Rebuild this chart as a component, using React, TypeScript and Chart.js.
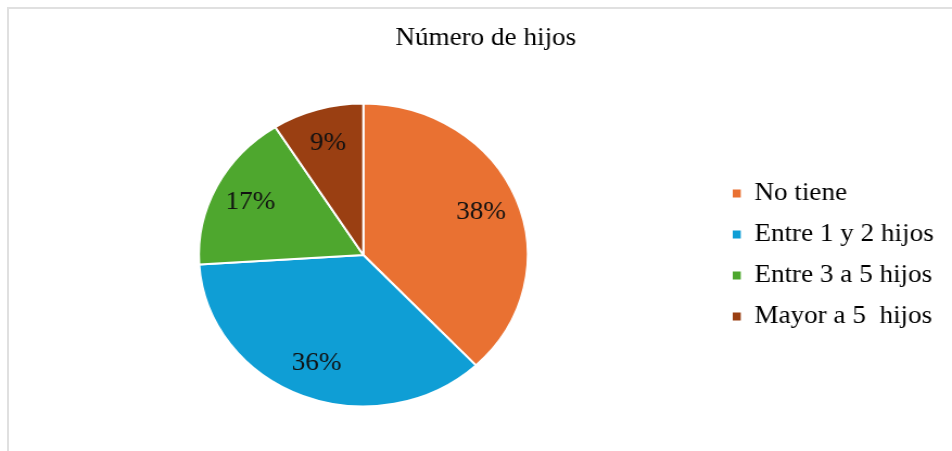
import React, { useEffect, useRef } from "react";
import { Chart, registerables } from "chart.js";

Chart.register(...registerables);

const title = "Número de hijos";
const categories = ["No tiene", "Entre 1 y 2 hijos", "Entre 3 a 5 hijos", "Mayor a 5  hijos"];
const values = [38, 36, 17, 9];
const colors = ["#E97132", "#0F9ED5", "#4EA72E", "#9A3F12"];

const FONT = '"Liberation Serif", "Times New Roman", serif';
const STRETCH = 1.086;
const PAGE_W = 952;
const PAGE_H = 451;
const CANVAS_W = Math.round(PAGE_W / STRETCH);

const percentLabels = {
  id: "percentLabels",
  afterDatasetsDraw(chart: any) {
    const ctx = chart.ctx;
    const meta = chart.getDatasetMeta(0);
    const data = chart.data.datasets[0].data as number[];
    const total = data.reduce((a, b) => a + b, 0);
    ctx.save();
    ctx.font = `25px ${FONT}`;
    ctx.fillStyle = "#111";
    ctx.textAlign = "center";
    ctx.textBaseline = "middle";
    meta.data.forEach((arc: any, i: number) => {
      const { x, y, startAngle, endAngle, outerRadius } = arc.getProps(
        ["x", "y", "startAngle", "endAngle", "outerRadius"],
        true
      );
      const mid = (startAngle + endAngle) / 2;
      const r = outerRadius * 0.77;
      const pct = Math.round((data[i] / total) * 100);
      ctx.fillText(pct + "%", x + Math.cos(mid) * r, y + Math.sin(mid) * r);
    });
    ctx.restore();
  },
};

export default function App() {
  const ref = useRef<HTMLCanvasElement | null>(null);

  useEffect(() => {
    if (!ref.current) return;
    const chart = new Chart(ref.current, {
      type: "pie",
      data: {
        labels: categories,
        datasets: [
          {
            data: values,
            backgroundColor: colors,
            borderColor: "#ffffff",
            borderWidth: 2,
            radius: 151.5,
          },
        ],
      },
      options: {
        responsive: false,
        animation: false,
        devicePixelRatio: 1,
        layout: { padding: { top: 0, bottom: 45.5, left: 10.4, right: -7.6 } },
        plugins: {
          tooltip: { enabled: false },
          title: {
            display: true,
            text: title,
            color: "#000",
            font: { family: FONT, size: 25, weight: "normal" },
            padding: { top: 23, bottom: 51.5 },
          },
          legend: {
            position: "right",
            fullSize: false,
            maxWidth: 225.6,
            labels: {
              boxWidth: 7.4,
              boxHeight: 8,
              padding: 16,
              color: "#000",
              font: { family: FONT, size: 25 },
              generateLabels: (c: any) => {
                const base = (Chart as any).overrides.pie.plugins.legend.labels.generateLabels(c);
                return base.map((l: any) => ({
                  ...l,
                  text: l.text + "\u00A0\u00A0\u00A0\u00A0\u00A0\u00A0\u00A0\u00A0\u00A0\u00A0",
                  strokeStyle: l.fillStyle,
                  lineWidth: 0,
                }));
              },
            },
          },
        },
      },
      plugins: [percentLabels],
    });
    return () => chart.destroy();
  }, []);

  return (
    <div style={{ position: "absolute", left: 0, top: 0, width: PAGE_W, height: PAGE_H, background: "#fff", overflow: "hidden" }}>
      <div
        style={{
          position: "absolute",
          left: 7,
          top: 7,
          right: -10,
          bottom: -10,
          borderLeft: "2px solid #E0E0E0",
          borderTop: "2px solid #E0E0E0",
        }}
      />
      <canvas
        ref={ref}
        width={CANVAS_W}
        height={PAGE_H}
        style={{ position: "absolute", left: 0, top: 0, width: PAGE_W + "px", height: PAGE_H + "px" }}
      />
    </div>
  );
}
